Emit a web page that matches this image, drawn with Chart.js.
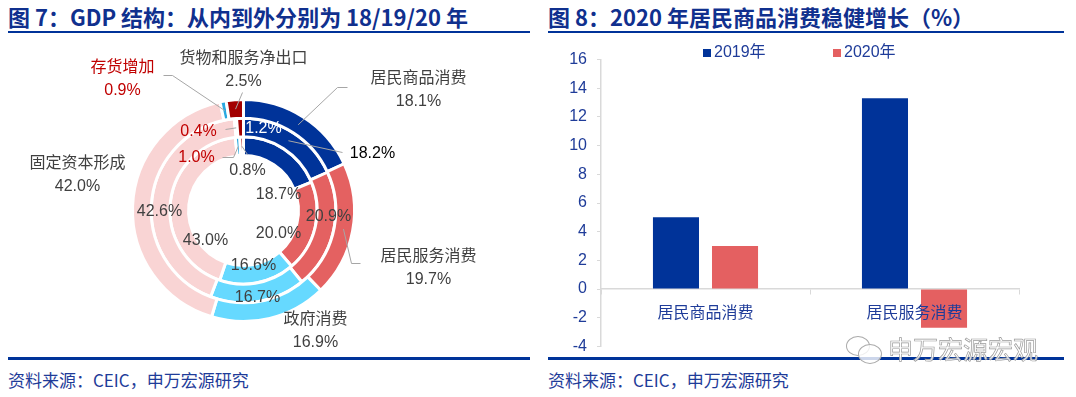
<!DOCTYPE html>
<html><head><meta charset="utf-8">
<script src="https://cdn.jsdelivr.net/npm/chart.js@4.4.0/dist/chart.umd.min.js"></script>
<style>
body{margin:0;width:1076px;height:397px;background:#fff;position:relative;overflow:hidden;font-family:"Liberation Sans","Noto Sans CJK SC",sans-serif;}
.title{position:absolute;top:2px;font-family:"Noto Sans CJK SC",sans-serif;font-weight:bold;font-size:22px;color:#10308E;line-height:28px;white-space:nowrap}
.rule{position:absolute;height:2px;background:#003399}
.src{position:absolute;top:368px;font-family:"Noto Sans CJK SC",sans-serif;font-size:17px;color:#1F3C99;line-height:24px;white-space:nowrap}
canvas{position:absolute}
.wm{position:absolute;left:888px;top:333px;font-family:"Noto Sans CJK SC",sans-serif;font-size:25px;color:rgba(255,255,255,0.85);-webkit-text-stroke:0.7px #9a9a9a;white-space:nowrap;line-height:30px}
.bub{position:absolute;border:1.5px solid #aaa;border-radius:50%;background:rgba(255,255,255,0.8)}
</style></head>
<body>
<div class="title" style="left:8px">图 7：GDP 结构：从内到外分别为 18/19/20 年</div>
<div class="title" style="left:548px">图 8：2020 年居民商品消费稳健增长（%）</div>
<div class="rule" style="left:8px;top:31px;width:522px"></div>
<div class="rule" style="left:548px;top:31px;width:516px"></div>
<canvas id="donut" width="536" height="318" style="left:0;top:36px"></canvas>
<canvas id="bars" width="536" height="326" style="left:540px;top:40px"></canvas>
<div class="rule" style="left:8px;top:357px;width:522px;height:2.5px"></div>
<div class="rule" style="left:548px;top:357px;width:516px;height:2.5px"></div>
<div class="bub" style="left:846px;top:336px;width:22px;height:18px"></div>
<div class="bub" style="left:858px;top:344px;width:22px;height:18px"></div>
<div class="wm">申万宏源宏观</div>
<div class="src" style="left:8px">资料来源：CEIC，申万宏源研究</div>
<div class="src" style="left:548px">资料来源：CEIC，申万宏源研究</div>
<script>
// ---- data ----
const categories = ['居民商品消费','居民服务消费','政府消费','固定资本形成','存货增加','货物和服务净出口'];
const gdp2018 = [18.7, 20.0, 16.6, 43.0, 1.0, 0.8];
const gdp2019 = [18.2, 20.9, 16.7, 42.6, 0.4, 1.2];
const gdp2020 = [18.1, 19.7, 16.9, 42.0, 0.9, 2.5];

const barCategories = ['居民商品消费','居民服务消费'];
const growth2019 = [5.0, 13.3];
const growth2020 = [3.0, -2.7];
const seriesNames = ['2019年','2020年'];
const yMin = -4, yMax = 16, yStep = 2;

// ---- styles ----
const sliceColors = ['#003399','#E46161','#66D9FF','#F9D4D4','#2AA8E0','#A30000'];
const FONT = '"Liberation Sans","Noto Sans CJK SC",sans-serif';
const GRAY = '#404040', RED = '#C00000', NAVY = '#1F3C99';

// label layout: d = ring (0 outer 2020, 1 middle 2019, 2 inner 2018), i = category
// dx/dy offsets from donut centre; leader = polyline after arc mid-point
const labelLayout = [
  {d:0,i:0,name:true,dx:175,dy:-120,color:GRAY,leader:[[94,-123],[104,-123]]},
  {d:0,i:1,name:true,dx:185,dy:58,color:GRAY,leader:[[108,53],[117,53]]},
  {d:0,i:2,name:true,dx:72,dy:121,color:GRAY},
  {d:0,i:3,name:true,dx:-166,dy:-35,color:GRAY},
  {d:0,i:4,name:true,dx:-121,dy:-131,color:RED,leader:[[-71,-135],[-80,-135]]},
  {d:0,i:5,name:true,dx:0,dy:-140,color:GRAY,leader:[[-1,-118]]},
  {d:1,i:0,dx:129,dy:-57,color:'#000',leader:[[99,-58]]},
  {d:1,i:1,dx:85,dy:6,color:GRAY},
  {d:1,i:2,dx:14,dy:87,color:GRAY},
  {d:1,i:3,dx:-84,dy:1,color:GRAY},
  {d:1,i:4,dx:-45,dy:-79,color:RED,leader:[[-18,-81]]},
  {d:1,i:5,dx:20,dy:-82,color:'#fff'},
  {d:2,i:0,dx:35,dy:-16,color:GRAY},
  {d:2,i:1,dx:35,dy:23,color:GRAY},
  {d:2,i:2,dx:10,dy:55,color:GRAY},
  {d:2,i:3,dx:-38,dy:30,color:GRAY},
  {d:2,i:4,dx:-47,dy:-53,color:RED,leader:[[-10,-53],[-21,-53]]},
  {d:2,i:5,dx:4,dy:-40,color:GRAY,leader:[[4,-56]]}
];

const donutLabels = {
  id:'donutLabels',
  afterDatasetsDraw(chart){
    const ctx = chart.ctx;
    ctx.save();
    labelLayout.forEach(c=>{
      const arc = chart.getDatasetMeta(c.d).data[c.i];
      const p = arc.getProps(['x','y','startAngle','endAngle','innerRadius','outerRadius'], true);
      const mid = (p.startAngle + p.endAngle)/2, r = (p.innerRadius + p.outerRadius)/2;
      if (c.leader){
        ctx.beginPath();
        ctx.moveTo(p.x + r*Math.cos(mid), p.y + r*Math.sin(mid));
        c.leader.forEach(q=>ctx.lineTo(p.x+q[0], p.y+q[1]));
        ctx.strokeStyle = '#A6A6A6'; ctx.lineWidth = 1; ctx.stroke();
      }
      const val = chart.data.datasets[c.d].data[c.i].toFixed(1) + '%';
      const lines = c.name ? [chart.data.labels[c.i], val] : [val];
      ctx.fillStyle = c.color;
      ctx.font = '16px ' + FONT;
      ctx.textAlign = 'center'; ctx.textBaseline = 'middle';
      const lh = 23, y0 = p.y + c.dy - (lines.length-1)*lh/2;
      lines.forEach((t,k)=>ctx.fillText(t, p.x + c.dx, y0 + k*lh));
    });
    ctx.restore();
  }
};

new Chart(document.getElementById('donut'), {
  type:'doughnut',
  data:{labels:categories, datasets:[
    {label:'2020', data:gdp2020, backgroundColor:sliceColors, borderColor:'#fff', borderWidth:3},
    {label:'2019', data:gdp2019, backgroundColor:sliceColors, borderColor:'#fff', borderWidth:3},
    {label:'2018', data:gdp2018, backgroundColor:sliceColors, borderColor:'#fff', borderWidth:3}
  ]},
  options:{
    responsive:false, animation:false, events:[],
    cutout:'49.5%',
    layout:{padding:{top:62,bottom:31,left:131,right:180}},
    plugins:{legend:{display:false}, tooltip:{enabled:false}}
  },
  plugins:[donutLabels]
});

const barLegend = {
  id:'barLegend',
  afterDraw(chart){
    const ctx = chart.ctx;
    const xs = [163, 293];
    ctx.save();
    ctx.font = '16px ' + FONT;
    ctx.textBaseline = 'middle'; ctx.textAlign = 'left';
    chart.data.datasets.forEach((ds,k)=>{
      ctx.fillStyle = ds.backgroundColor;
      ctx.fillRect(xs[k], 9, 8, 8);
      ctx.fillStyle = NAVY;
      ctx.fillText(ds.label, xs[k]+11, 13);
    });
    ctx.restore();
  }
};

new Chart(document.getElementById('bars'), {
  type:'bar',
  data:{labels:barCategories, datasets:[
    {label:seriesNames[0], data:growth2019, backgroundColor:'#003399'},
    {label:seriesNames[1], data:growth2020, backgroundColor:'#E46061'}
  ]},
  options:{
    responsive:false, animation:false, events:[],
    categoryPercentage:0.565, barPercentage:0.78,
    layout:{padding:{top:17,bottom:9,left:0,right:57}},
    plugins:{legend:{display:false}, tooltip:{enabled:false}},
    scales:{
      x:{position:{y:0},
         grid:{offset:true, drawOnChartArea:false, tickLength:5, color:'#d9d9d9'},
         border:{color:'#d9d9d9', width:1.5},
         ticks:{z:1, color:NAVY, font:{size:16, family:FONT}, padding:10}},
      y:{min:yMin, max:yMax,
         ticks:{stepSize:yStep, color:NAVY, font:{size:16, family:FONT}, padding:10},
         grid:{drawOnChartArea:false, tickLength:4, color:'#d9d9d9'},
         border:{color:'#d9d9d9', width:1.5},
         afterFit(s){ s.width = 61; }}
    }
  },
  plugins:[barLegend]
});
</script>
</body></html>
